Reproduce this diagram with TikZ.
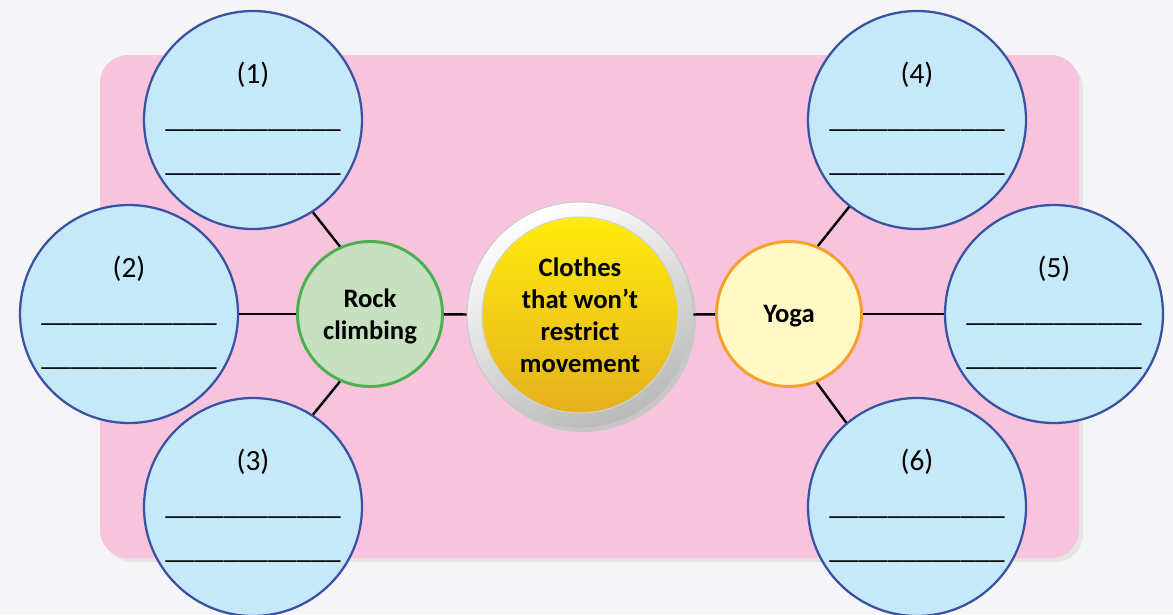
\documentclass[tikz,border=0pt]{standalone}
\usepackage{fontspec}
\setmainfont{Carlito}

\definecolor{bggray}{HTML}{F5F5F7}
\definecolor{panelpink}{HTML}{F8C3DC}
\definecolor{blankblue}{HTML}{C6E9F9}
\definecolor{blankedge}{HTML}{3B52A3}
\definecolor{rockfill}{HTML}{C6E0C0}
\definecolor{rockedge}{HTML}{4CAF50}
\definecolor{yogafill}{HTML}{FFF9C6}
\definecolor{yogaedge}{HTML}{F7A02C}
\definecolor{hubyellow}{HTML}{FFEC0C}
\definecolor{hubgold}{HTML}{E5B01E}

\newcommand{\blankline}{\_\_\_\_\_\_\_\_\_\_\_\_}

\begin{document}
\begin{tikzpicture}[x=0.75pt,y=-0.75pt,
    blank/.style={circle,draw=blankedge,line width=1.7pt,fill=blankblue,minimum size=163.5pt,inner sep=0pt},
    blanktext/.style={align=center,inner sep=0pt,font=\fontsize{22}{33}\selectfont},
    topic/.style={circle,line width=2.2pt,minimum size=108.75pt,inner sep=0pt,text depth=0pt,align=center,font=\bfseries\fontsize{20}{24}\selectfont},
    spoke/.style={line width=1.8pt}]
\fill[bggray] (0,0) rectangle (1173,614);
\useasboundingbox (0,0) rectangle (1173,614);

% pink panel with its shadow
\fill[black!10,rounded corners=21pt] (104,60) rectangle (1083,562);
\fill[panelpink,rounded corners=21pt] (100,55) rectangle (1079,558);

% answer circles
\foreach \n/\cx/\cy in {1/253/120,2/129/314,3/253/507,4/917/120,5/1054/314,6/917/507}
{
    \node[blank] (c\n) at (\cx,\cy) {};
    \node[blanktext] (t\n) at (\cx,\cy-1) {(\n)\\\blankline\\\blankline};
}

% the two activities
\node[topic,draw=rockedge,fill=rockfill] (rock) at (370,314) {Rock\\climbing};
\node[topic,draw=yogaedge,fill=yogafill] (yoga) at (789,314) {Yoga};

% centre
\fill[black!22] (583,319) circle[radius=113];
\node[circle,minimum size=169.5pt,inner sep=0pt,draw=gray!45,line width=0.6pt,
    top color=white,bottom color=gray!55,shading angle=25] (hub) at (580,315) {};
\node[circle,minimum size=147pt,inner sep=0pt,draw=gray!35,line width=0.8pt,
    top color=hubyellow,bottom color=hubgold,align=center,
    font=\bfseries\fontsize{20}{24}\selectfont] (core) at (hub) {Clothes\\that won’t\\restrict\\movement};

\draw[spoke] (c2) -- (rock);
\draw[spoke] (rock.114) -- (c1.303);
\draw[spoke] (rock.246) -- (c3.57);
\draw[spoke] (rock) -- (hub);
\draw[spoke] (hub) -- (yoga);
\draw[spoke] (yoga) -- (c5);
\draw[spoke] (yoga.67) -- (c4.232);
\draw[spoke] (yoga.292) -- (c6.130);
\end{tikzpicture}
\end{document}
